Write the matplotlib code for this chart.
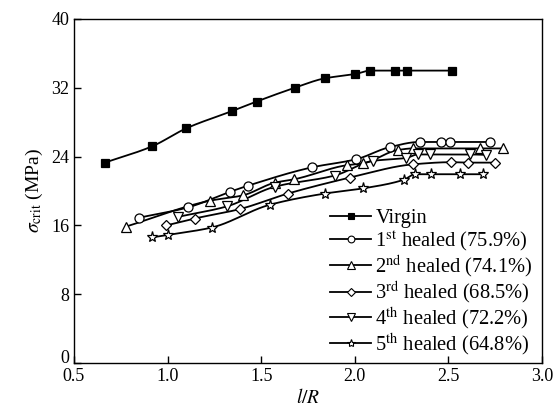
import numpy as np
import matplotlib
matplotlib.use("Agg")
import matplotlib.pyplot as plt
import matplotlib.transforms as mtransforms
from matplotlib.lines import Line2D

plt.rcParams['font.family'] = ['Liberation Serif', 'DejaVu Serif']
plt.rcParams['mathtext.fontset'] = 'stix'

# ---- data ----
virgin_x = [0.665, 0.918, 1.101, 1.345, 1.475, 1.679, 1.839, 2.003, 2.083, 2.217, 2.281, 2.521]
virgin_y = [23.3, 25.2, 27.3, 29.3, 30.4, 32.0, 33.1, 33.6, 34.0, 34.0, 34.0, 34.0]

h1_x = [0.848, 1.110, 1.332, 1.427, 1.771, 2.009, 2.186, 2.346, 2.462, 2.510, 2.720]
h1_y = [16.9, 18.1, 19.9, 20.6, 22.75, 23.7, 25.1, 25.7, 25.7, 25.7, 25.7]

h2_x = [0.776, 1.226, 1.403, 1.573, 1.676, 1.958, 2.042, 2.231, 2.311, 2.667, 2.791]
h2_y = [15.85, 18.87, 19.5, 20.97, 21.36, 23.0, 23.2, 24.77, 24.95, 24.95, 24.95]

h3_x = [0.993, 1.144, 1.386, 1.642, 1.973, 2.311, 2.515, 2.604, 2.747]
h3_y = [16.0, 16.8, 17.9, 19.7, 21.55, 23.1, 23.35, 23.3, 23.3]

h4_x = [1.057, 1.315, 1.573, 1.893, 2.097, 2.275, 2.337, 2.400, 2.613, 2.702]
h4_y = [17.0, 18.2, 20.5, 21.8, 23.5, 23.85, 24.25, 24.25, 24.25, 24.2]

h5_x = [0.915, 1.002, 1.235, 1.546, 1.839, 2.042, 2.261, 2.322, 2.409, 2.560, 2.684]
h5_y = [14.6, 14.9, 15.75, 18.4, 19.7, 20.3, 21.3, 21.95, 21.95, 21.95, 21.95]

labels = ['Virgin',
          r'1$^{\rm st}$ healed (75.9%)',
          r'2$^{\rm nd}$ healed (74.1%)',
          r'3$^{\rm rd}$ healed (68.5%)',
          r'4$^{\rm th}$ healed (72.2%)',
          r'5$^{\rm th}$ healed (64.8%)']

x_ticks = [0.5, 1.0, 1.5, 2.0, 2.5, 3.0]
y_ticks = [0, 8, 16, 24, 32, 40]


def pchip(x, y, xs):
    x = np.asarray(x, float); y = np.asarray(y, float)
    h = np.diff(x); d = np.diff(y) / h
    n = len(x); m = np.zeros(n)
    for k in range(1, n - 1):
        if d[k - 1] * d[k] <= 0:
            m[k] = 0.0
        else:
            w1 = 2 * h[k] + h[k - 1]; w2 = h[k] + 2 * h[k - 1]
            m[k] = (w1 + w2) / (w1 / d[k - 1] + w2 / d[k])
    m[0] = d[0]; m[-1] = d[-1]
    idx = np.clip(np.searchsorted(x, xs) - 1, 0, n - 2)
    t = (xs - x[idx]) / h[idx]
    h00 = 2 * t**3 - 3 * t**2 + 1; h10 = t**3 - 2 * t**2 + t
    h01 = -2 * t**3 + 3 * t**2; h11 = t**3 - t**2
    return h00 * y[idx] + h10 * h[idx] * m[idx] + h01 * y[idx + 1] + h11 * h[idx] * m[idx + 1]


fig = plt.figure(figsize=(5.55, 4.12), dpi=100)
ax = fig.add_axes([0.1333, 0.1189, 0.8433, 0.835])

series = [(virgin_x, virgin_y, 's', 'black', 5.5),
          (h1_x, h1_y, 'o', 'white', 6.5),
          (h2_x, h2_y, '^', 'white', 7),
          (h3_x, h3_y, 'D', 'white', 5.5),
          (h4_x, h4_y, 'v', 'white', 7),
          (h5_x, h5_y, '*', 'white', 8)]

handles = []
for (xs, ys, mk, fc, ms), lab in zip(series, labels):
    xx = np.linspace(xs[0], xs[-1], 300)
    ax.plot(xx, pchip(xs, ys, xx), color='black', lw=1.3, zorder=2)
    ax.plot(xs, ys, linestyle='none', marker=mk, markerfacecolor=fc,
            markeredgecolor='black', markeredgewidth=0.9, markersize=ms, zorder=3)
    handles.append(Line2D([], [], color='black', lw=1.3, marker=mk, markerfacecolor=fc,
                          markeredgecolor='black', markeredgewidth=0.8, markersize=ms * 0.75,
                          label=lab))

ax.set_xlim(0.5, 3.0)
ax.set_ylim(0, 40)
ax.set_xticks(x_ticks)
ax.set_xticklabels([f'{v:.1f}' for v in x_ticks])
ax.set_yticks(y_ticks)
ax.tick_params(direction='in', length=5, width=1, labelsize=13, top=False, right=False)
for s in ax.spines.values():
    s.set_linewidth(1.0)

# lift the "0" y-label slightly, as in the reference, so it clears "0.5"
fig.canvas.draw()
lab0 = ax.get_yticklabels()[0]
lab0.set_transform(lab0.get_transform() + mtransforms.ScaledTranslation(0, 5 / 72, fig.dpi_scale_trans))

ax.set_xlabel(r'$l/R$', fontsize=14, labelpad=2)
ax.set_ylabel(r'$\sigma_{\rm crit}$ (MPa)', fontsize=14, labelpad=4)

leg = ax.legend(handles=handles, loc='lower right', frameon=False, fontsize=14.8,
                handlelength=2.0, handletextpad=0.2, labelspacing=0.0,
                borderaxespad=0.0, borderpad=0.3, bbox_to_anchor=(0.993, 0.0))

fig.savefig('out.png', dpi=100)
